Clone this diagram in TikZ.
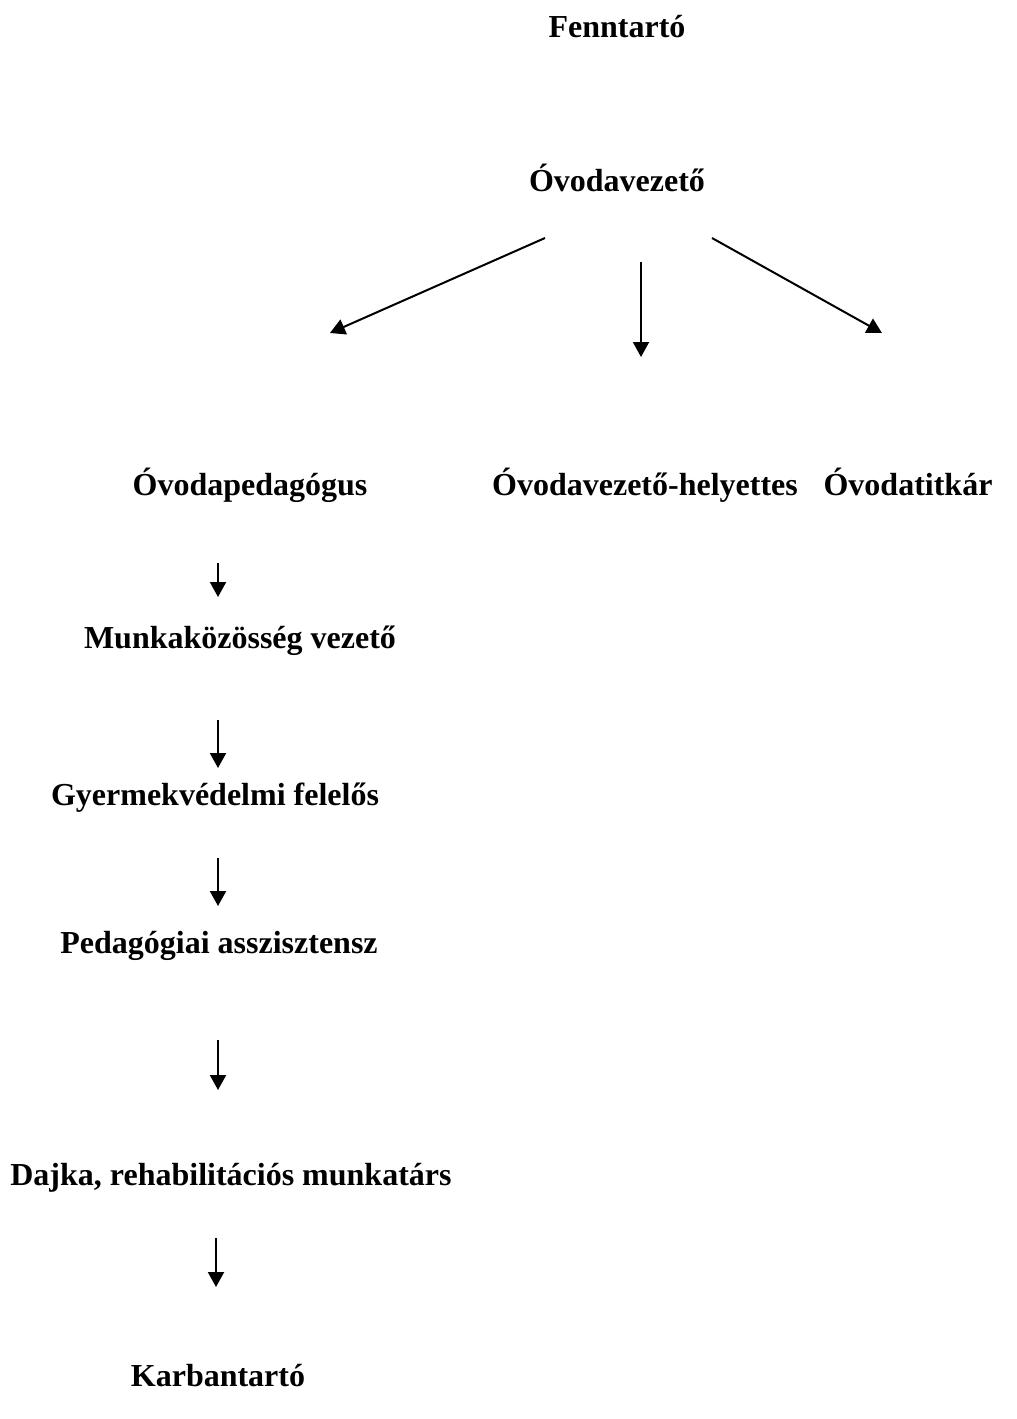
\documentclass[tikz,border=0pt]{standalone}
\usepackage{fontspec}
\setmainfont{Liberation Serif}
\usepackage{tikz}
\usetikzlibrary{arrows.meta}
\tikzset{>={Triangle[width=8pt,length=7.5pt]}}
\tikzset{cim/.style={anchor=base, inner sep=0pt, font=\fontsize{16}{19}\selectfont\bfseries}}
\tikzset{nyil/.style={->, line width=1pt}}

\begin{document}
\begin{tikzpicture}[x=0.5pt, y=-0.5pt]
            \useasboundingbox (0, 0) rectangle (1017, 1419);
            \node[cim] (fenntarto) at (617, 37) {Fenntartó};
            \node[cim] (vezeto) at (617, 191) {Óvodavezető};
            \node[cim] (pedagogus) at (250, 495) {Óvodapedagógus};
            \node[cim] (helyettes) at (645, 495) {Óvodavezető-helyettes};
            \node[cim] (titkar) at (908, 495) {Óvodatitkár};
            \node[cim] (mkvezeto) at (240, 648) {Munkaközösség vezető};
            \node[cim] (gyvedelem) at (215, 805) {Gyermekvédelmi felelős};
            \node[cim] (asszisztens) at (219, 953) {Pedagógiai asszisztensz};
            \node[cim] (dajka) at (231, 1185) {Dajka, rehabilitációs munkatárs};
            \node[cim] (karbantarto) at (218, 1386) {Karbantartó};
            % nyilak vegpontjai
            \coordinate (A1) at (545, 238); \coordinate (B1) at (330, 333);
            \coordinate (A2) at (641, 262); \coordinate (B2) at (641, 357);
            \coordinate (A3) at (712, 238); \coordinate (B3) at (882, 333);
            \coordinate (A4) at (218, 563); \coordinate (B4) at (218, 597);
            \coordinate (A5) at (218, 720); \coordinate (B5) at (218, 768);
            \coordinate (A6) at (218, 858); \coordinate (B6) at (218, 906);
            \coordinate (A7) at (218, 1040); \coordinate (B7) at (218, 1090);
            \coordinate (A8) at (216, 1238); \coordinate (B8) at (216, 1287);
            % nyilak a vezetotol
            \draw[nyil] (A1) -- (B1);
            \draw[nyil] (A2) -- (B2);
            \draw[nyil] (A3) -- (B3);
            % lefele a bal oszlopban
            \draw[nyil] (A4) -- (B4);
            \draw[nyil] (A5) -- (B5);
            \draw[nyil] (A6) -- (B6);
            \draw[nyil] (A7) -- (B7);
            \draw[nyil] (A8) -- (B8);
        \end{tikzpicture}
\end{document}
